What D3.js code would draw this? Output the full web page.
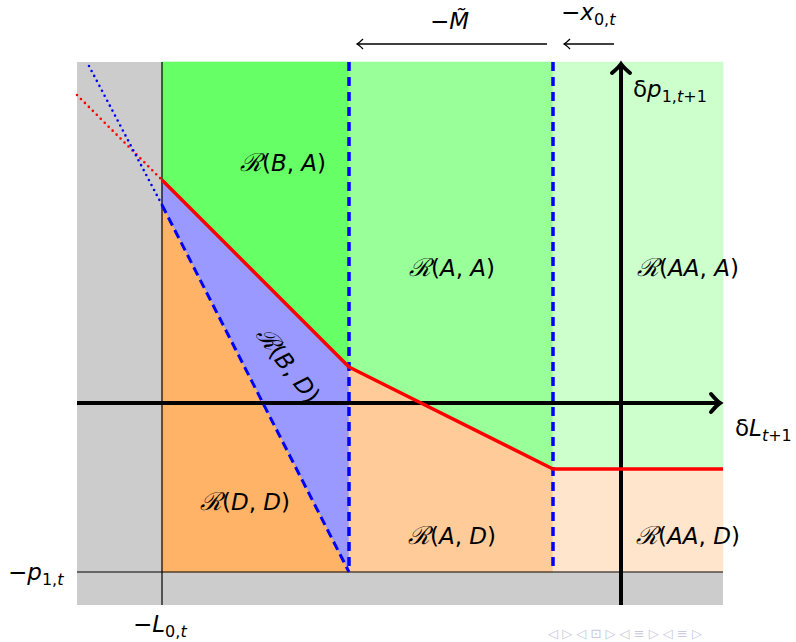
<!DOCTYPE html>
<html>
<head>
<meta charset="utf-8">
<script src="https://cdn.jsdelivr.net/npm/d3@7"></script>
<style>
  body { margin: 0; background: #fff; }
  text { font-family: "DejaVu Sans", sans-serif; }
</style>
</head>
<body>
<svg id="chart" width="796" height="642"></svg>
<script>
// diagram coordinates, origin at the axes crossing
var xBounds = [-5.44, 1.02];
var yBounds = [-2.02, 3.41];
var L0 = -4.59;         // -L_{0,t}
var Mtilde = -2.72;     // -M~
var x0 = -0.68;         // -x_{0,t}
var p1 = -1.69;         // -p_{1,t}

var redLine = [[-4.59, 2.23], [-2.72, 0.36], [-0.68, -0.66], [1.02, -0.66]];
var blueDiag = [[-4.59, 1.98], [-2.72, -1.69]];
var redDotted = [[-5.44, 3.08], [-4.59, 2.23]];
var blueDotted = [[-5.32, 3.37], [-4.59, 1.98]];

var regions = [
  { name: 'BA', fill: '#66ff66', pts: [[L0, 3.41], [Mtilde, 3.41], [-2.72, 0.36], [-4.59, 2.23]] },
  { name: 'AA', fill: '#99ff99', pts: [[Mtilde, 3.41], [x0, 3.41], [-0.68, -0.66], [-2.72, 0.36]] },
  { name: 'AAA', fill: '#ccffcc', pts: [[x0, 3.41], [1.02, 3.41], [1.02, -0.66], [-0.68, -0.66]] },
  { name: 'BD', fill: '#9999ff', pts: [[-4.59, 2.23], [-2.72, 0.36], [Mtilde, p1], [-4.59, 1.98]] },
  { name: 'DD', fill: '#ffb366', pts: [[-4.59, 1.98], [Mtilde, p1], [L0, p1]] },
  { name: 'AD', fill: '#ffcc99', pts: [[-2.72, 0.36], [-0.68, -0.66], [x0, p1], [Mtilde, p1]] },
  { name: 'AAD', fill: '#ffe5cc', pts: [[-0.68, -0.66], [1.02, -0.66], [1.02, p1], [x0, p1]] }
];

var labels = [
  { parts: ['B', 'A'], at: [-3.38, 2.40], rot: 0 },
  { parts: ['A', 'A'], at: [-1.69, 1.35], rot: 0 },
  { parts: ['AA', 'A'], at: [0.67, 1.35], rot: 0 },
  { parts: ['B', 'D'], at: [-3.33, 0.38], rot: 52 },
  { parts: ['D', 'D'], at: [-3.76, -0.99], rot: 0 },
  { parts: ['A', 'D'], at: [-1.69, -1.33], rot: 0 },
  { parts: ['AA', 'D'], at: [0.67, -1.33], rot: 0 }
];

var svg = d3.select('#chart');
var x = d3.scaleLinear().domain(xBounds).range([77, 723]);
var y = d3.scaleLinear().domain(yBounds).range([605, 62]);
var line = d3.line().x(function(d) { return x(d[0]); }).y(function(d) { return y(d[1]); });

svg.append('rect')
    .attr('x', x(xBounds[0])).attr('y', y(yBounds[1]))
    .attr('width', x(xBounds[1]) - x(xBounds[0]))
    .attr('height', y(yBounds[0]) - y(yBounds[1]))
    .attr('fill', '#cccccc');

svg.selectAll('.region')
    .data(regions)
  .enter().append('path')
    .attr('class', 'region')
    .attr('d', function(d) { return line(d.pts) + 'Z'; })
    .attr('fill', function(d) { return d.fill; })
    .attr('stroke', function(d) { return d.fill; })
    .attr('stroke-width', 0.6);

// thin reference lines
svg.append('line')
    .attr('x1', x(L0)).attr('x2', x(L0))
    .attr('y1', y(yBounds[1])).attr('y2', y(yBounds[0]))
    .attr('stroke', '#000').attr('stroke-width', 1.2);
svg.append('line')
    .attr('x1', x(xBounds[0])).attr('x2', x(xBounds[1]))
    .attr('y1', y(p1)).attr('y2', y(p1))
    .attr('stroke', '#000').attr('stroke-width', 1.2);

// dotted extensions
svg.append('path').attr('d', line(redDotted))
    .attr('fill', 'none').attr('stroke', '#ff0000')
    .attr('stroke-width', 2.6).attr('stroke-linecap', 'round')
    .attr('stroke-dasharray', '0 5.6');
svg.append('path').attr('d', line(blueDotted))
    .attr('fill', 'none').attr('stroke', '#0000ff')
    .attr('stroke-width', 2.6).attr('stroke-linecap', 'round')
    .attr('stroke-dasharray', '0 5.6');

// region labels (under the axes, as in the original)
var lab = svg.selectAll('.lab')
    .data(labels)
  .enter().append('text')
    .attr('class', 'lab')
    .attr('font-size', 23)
    .attr('text-anchor', 'middle')
    .attr('transform', function(d) {
      return 'translate(' + x(d.at[0]) + ',' + y(d.at[1]) + ') rotate(' + d.rot + ')';
    })
    .attr('dy', '0.35em');
lab.append('tspan').attr('font-family', 'DejaVu Serif').attr('font-style', 'italic')
    .attr('font-size', 25).text('ℛ');
lab.append('tspan').text('(');
lab.append('tspan').attr('font-style', 'italic').text(function(d) { return d.parts[0]; });
lab.append('tspan').text(', ');
lab.append('tspan').attr('font-style', 'italic').text(function(d) { return d.parts[1]; });
lab.append('tspan').text(')');

// axes
svg.append('line')
    .attr('x1', x(xBounds[0])).attr('x2', x(xBounds[1]) - 3)
    .attr('y1', y(0)).attr('y2', y(0))
    .attr('stroke', '#000').attr('stroke-width', 4);
svg.append('line')
    .attr('x1', x(0)).attr('x2', x(0))
    .attr('y1', y(yBounds[0])).attr('y2', y(yBounds[1]) + 3)
    .attr('stroke', '#000').attr('stroke-width', 4);

function thickHead(px, py, dir) {
  var p;
  if (dir === 'right') {
    p = 'M' + (px - 9) + ',' + (py - 9) + ' Q' + (px - 3) + ',' + (py - 2) + ' ' + px + ',' + py +
        ' Q' + (px - 3) + ',' + (py + 2) + ' ' + (px - 9) + ',' + (py + 9);
  } else {
    p = 'M' + (px - 9) + ',' + (py + 9) + ' Q' + (px - 2) + ',' + (py + 3) + ' ' + px + ',' + py +
        ' Q' + (px + 2) + ',' + (py + 3) + ' ' + (px + 9) + ',' + (py + 9);
  }
  svg.append('path').attr('d', p)
      .attr('fill', 'none').attr('stroke', '#000')
      .attr('stroke-width', 4).attr('stroke-linecap', 'round');
}
thickHead(x(xBounds[1]) - 3, y(0), 'right');
thickHead(x(0), y(yBounds[1]) + 2, 'up');

// boundaries
svg.append('path').attr('d', line(blueDiag))
    .attr('fill', 'none').attr('stroke', '#0000ff')
    .attr('stroke-width', 3).attr('stroke-dasharray', '9 5');
[Mtilde, x0].forEach(function(v) {
  svg.append('line')
      .attr('x1', x(v)).attr('x2', x(v))
      .attr('y1', y(yBounds[1])).attr('y2', y(p1))
      .attr('stroke', '#0000ff').attr('stroke-width', 3.5)
      .attr('stroke-dasharray', '9 6');
});
svg.append('path').attr('d', line(redLine))
    .attr('fill', 'none').attr('stroke', '#ff0000')
    .attr('stroke-width', 3.5).attr('stroke-linejoin', 'round');

// axis labels; sub is a list of [text, italic]
function mathLabel(px, py, pre, main, sub) {
  var t = svg.append('text')
      .attr('x', px).attr('y', py)
      .attr('font-size', 23);
  if (pre) t.append('tspan').text(pre);
  t.append('tspan').attr('font-style', 'italic').text(main);
  if (sub) {
    sub.forEach(function(s, i) {
      var ts = t.append('tspan').attr('font-size', 16).text(s[0]);
      if (s[1]) ts.attr('font-style', 'italic');
      if (i === 0) ts.attr('dy', 5);
    });
  }
  return t;
}
mathLabel(633, 97, 'δ', 'p', [['1,', false], ['t', true], ['+1', false]]);
mathLabel(735, 436, 'δ', 'L', [['t', true], ['+1', false]]);
mathLabel(8, 580, '−', 'p', [['1,', false], ['t', true]]);
mathLabel(133, 632, '−', 'L', [['0,', false], ['t', true]]);
mathLabel(430, 29, '−', 'M̃', null);
mathLabel(561, 20, '−', 'x', [['0,', false], ['t', true]]);

// annotation arrows
function thinArrow(xa, xb, yy) {
  svg.append('line').attr('x1', xa).attr('x2', xb).attr('y1', yy).attr('y2', yy)
      .attr('stroke', '#000').attr('stroke-width', 1.3);
  svg.append('path')
      .attr('d', 'M' + (xb + 6) + ',' + (yy - 5) + ' Q' + (xb + 2) + ',' + (yy - 1) + ' ' + xb + ',' + yy +
                 ' Q' + (xb + 2) + ',' + (yy + 1) + ' ' + (xb + 6) + ',' + (yy + 5))
      .attr('fill', 'none').attr('stroke', '#000').attr('stroke-width', 1.3);
}
thinArrow(547, 357, 44);
thinArrow(614, 564, 44);

// faint navigation symbols
svg.append('text')
    .attr('x', 548).attr('y', 638)
    .attr('font-size', 13).attr('fill', '#c8c8e0')
    .text('◁ ▷ ◁ ⊡ ▷ ◁ ≡ ▷ ◁ ≡ ▷');
</script>
</body>
</html>
